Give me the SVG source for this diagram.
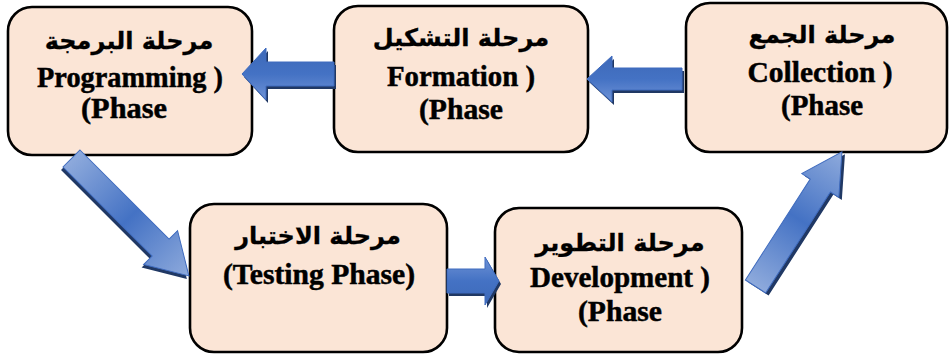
<svg xmlns="http://www.w3.org/2000/svg" width="949" height="354" viewBox="0 0 949 354">
<style>
.box{fill:#FBE5D6;stroke:#000;stroke-width:2.6}
.en{font-family:'Liberation Serif','Times New Roman',serif;font-weight:700;font-size:30px;fill:#000;stroke:#000;stroke-width:0.5;text-anchor:middle}
.ar{font-family:'DejaVu Sans','Noto Sans',sans-serif;font-weight:700;font-size:24px;fill:#000;stroke:#000;stroke-width:0.3;text-anchor:middle}
.sh{fill:#203864}
.ah{fill:url(#gh);stroke:#3F6BBE;stroke-width:1}
.ad{fill:url(#gd);stroke:#3F6BBE;stroke-width:1}
</style>
<defs>
<linearGradient id="gh" x1="0" y1="0" x2="0" y2="1">
<stop offset="0" stop-color="#6F93D6"/>
<stop offset="0.5" stop-color="#4472C4"/>
<stop offset="1" stop-color="#3D69B8"/>
</linearGradient>
<linearGradient id="gd" x1="0" y1="0" x2="1" y2="0">
<stop offset="0" stop-color="#8EAADC"/>
<stop offset="0.5" stop-color="#4472C4"/>
<stop offset="1" stop-color="#8EAADC"/>
</linearGradient>
</defs>
<g id="programming">
<rect class="box" x="8" y="7" width="244" height="148" rx="24"/>
<text class="ar" x="129" y="49">مرحلة البرمجة</text>
<text class="en" x="130" y="87" textLength="186" lengthAdjust="spacingAndGlyphs">Programming )</text>
<text class="en" x="124" y="118" textLength="86" lengthAdjust="spacingAndGlyphs">(Phase</text>
</g>
<g id="formation">
<rect class="box" x="334" y="6" width="254" height="146" rx="24"/>
<text class="ar" x="461" y="46">مرحلة التشكيل</text>
<text class="en" x="461" y="86" textLength="148" lengthAdjust="spacingAndGlyphs">Formation )</text>
<text class="en" x="461" y="119" textLength="84" lengthAdjust="spacingAndGlyphs">(Phase</text>
</g>
<g id="collection">
<rect class="box" x="686" y="3" width="261" height="149" rx="24"/>
<text class="ar" x="822" y="43">مرحلة الجمع</text>
<text class="en" x="820" y="82" textLength="145" lengthAdjust="spacingAndGlyphs">Collection )</text>
<text class="en" x="822" y="115" textLength="82" lengthAdjust="spacingAndGlyphs">(Phase</text>
</g>
<g id="testing">
<rect class="box" x="190" y="204" width="257" height="148" rx="24"/>
<text class="ar" x="318" y="244">مرحلة الاختبار</text>
<text class="en" x="319" y="284" textLength="192" lengthAdjust="spacingAndGlyphs">(Testing Phase)</text>
</g>
<g id="development">
<rect class="box" x="495" y="208" width="247" height="144" rx="24"/>
<text class="ar" x="620" y="251">مرحلة التطوير</text>
<text class="en" x="620" y="287" textLength="180" lengthAdjust="spacingAndGlyphs">Development )</text>
<text class="en" x="620" y="321" textLength="84" lengthAdjust="spacingAndGlyphs">(Phase</text>
</g>
<g id="connectors">
<g id="a1">
<path class="sh" transform="translate(336,77) rotate(180)" d="M0,-12 L68,-12 L68,-26 L92,0 L68,26 L68,12 L0,12 Z"/>
<path class="ah" transform="translate(334,74) rotate(180)" d="M0,-12 L68,-12 L68,-26 L92,0 L68,26 L68,12 L0,12 Z"/>
</g>
<g id="a2">
<path class="sh" transform="translate(684,82) rotate(180)" d="M0,-11 L70,-11 L70,-23 L95,0 L70,23 L70,11 L0,11 Z"/>
<path class="ah" transform="translate(682,79) rotate(180)" d="M0,-11 L70,-11 L70,-23 L95,0 L70,23 L70,11 L0,11 Z"/>
</g>
<g id="a3">
<path class="sh" transform="translate(69.5,161.5) rotate(45)" d="M0,-12 L126,-12 L126,-24 L166,0 L126,24 L126,12 L0,12 Z"/>
<path class="ad" transform="translate(71.5,158.5) rotate(45)" d="M0,-12 L126,-12 L126,-24 L166,0 L126,24 L126,12 L0,12 Z"/>
</g>
<g id="a4">
<path class="sh" transform="translate(449,284)" d="M0,-12 L38,-12 L38,-24 L52,0 L38,24 L38,12 L0,12 Z"/>
<path class="ah" transform="translate(447,281)" d="M0,-12 L38,-12 L38,-24 L52,0 L38,24 L38,12 L0,12 Z"/>
</g>
<g id="a5">
<path class="sh" transform="translate(758.5,289) rotate(-57.3)" d="M0,-12 L120,-12 L120,-22 L160,0 L120,22 L120,12 L0,12 Z"/>
<path class="ad" transform="translate(755.5,286.5) rotate(-57.3)" d="M0,-12 L120,-12 L120,-22 L160,0 L120,22 L120,12 L0,12 Z"/>
</g>
</g>
</svg>
